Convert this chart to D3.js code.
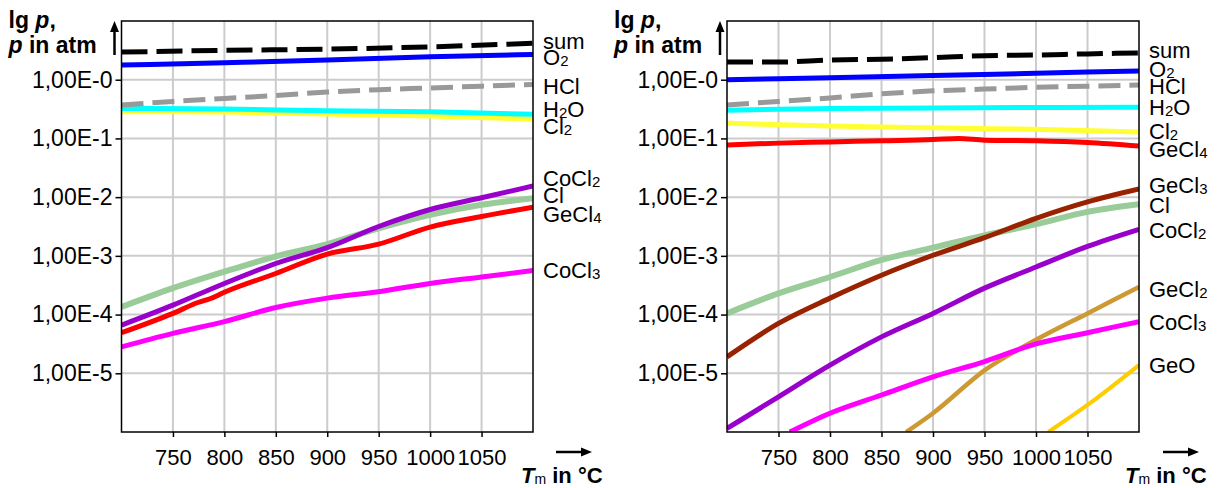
<!DOCTYPE html>
<html>
<head>
<meta charset="utf-8">
<script src="https://cdn.jsdelivr.net/npm/d3@7"></script>
<style>
  body { margin: 0; background: #fff; }
  svg { display: block; font-family: "Liberation Sans", Arial, sans-serif; }
</style>
</head>
<body>
<svg id="chart" width="1221" height="488"></svg>
<script>
// x ticks / y ticks (lg p)
var tempTicks = [750, 800, 850, 900, 950, 1000, 1050];
var lgTicks = [0, -1, -2, -3, -4, -5];
var lgTickLabels = ["1,00E-0", "1,00E-1", "1,00E-2", "1,00E-3", "1,00E-4", "1,00E-5"];

// left panel, [T in °C, lg p]
var leftSum   = [[700,0.47],[800,0.50],[900,0.52],[1000,0.56],[1100,0.62]];
var leftO2    = [[700,0.25],[800,0.29],[900,0.335],[1000,0.39],[1100,0.43]];
var leftHCl   = [[700,-0.43],[750,-0.37],[800,-0.32],[850,-0.27],[900,-0.21],[950,-0.17],[1000,-0.14],[1050,-0.11],[1100,-0.08]];
var leftH2O   = [[700,-0.49],[800,-0.50],[900,-0.53],[1000,-0.545],[1100,-0.59]];
var leftCl2   = [[700,-0.545],[800,-0.55],[850,-0.57],[900,-0.585],[1000,-0.62],[1100,-0.67]];
var leftCoCl2 = [[700,-4.18],[750,-3.84],[800,-3.47],[850,-3.13],[900,-2.86],[950,-2.50],[1000,-2.21],[1050,-2.01],[1100,-1.81]];
var leftCl    = [[700,-3.87],[750,-3.55],[800,-3.27],[850,-3.01],[900,-2.80],[950,-2.53],[1000,-2.30],[1050,-2.13],[1100,-2.02]];
var leftGeCl4 = [[700,-4.31],[750,-3.98],[775,-3.79],[786,-3.73],[800,-3.62],[850,-3.30],[900,-2.97],[950,-2.80],[1000,-2.51],[1050,-2.33],[1100,-2.17]];
var leftCoCl3 = [[700,-4.55],[750,-4.32],[800,-4.12],[850,-3.88],[900,-3.72],[950,-3.61],[1000,-3.47],[1050,-3.36],[1100,-3.25]];

// right panel
var rightSum   = [[700,0.30],[750,0.30],[800,0.335],[850,0.35],[900,0.375],[950,0.41],[1000,0.42],[1050,0.44],[1100,0.455]];
var rightO2    = [[700,0.0],[800,0.035],[900,0.07],[1000,0.11],[1100,0.15]];
var rightHCl   = [[700,-0.43],[750,-0.37],[800,-0.31],[850,-0.24],[900,-0.19],[950,-0.16],[1000,-0.13],[1050,-0.11],[1100,-0.09]];
var rightH2O   = [[700,-0.52],[800,-0.49],[900,-0.48],[1100,-0.47]];
var rightCl2   = [[700,-0.74],[800,-0.79],[900,-0.82],[1000,-0.845],[1100,-0.89]];
var rightGeCl4 = [[700,-1.11],[750,-1.08],[800,-1.06],[850,-1.04],[900,-1.02],[925,-1.0],[950,-1.03],[1000,-1.04],[1050,-1.07],[1100,-1.13]];
var rightGeCl3 = [[700,-4.72],[750,-4.15],[800,-3.72],[850,-3.33],[900,-2.99],[950,-2.69],[1000,-2.36],[1050,-2.08],[1100,-1.86]];
var rightCl    = [[700,-3.98],[750,-3.64],[800,-3.36],[850,-3.07],[900,-2.86],[950,-2.65],[1000,-2.46],[1050,-2.25],[1100,-2.12]];
var rightCoCl2 = [[700,-5.94],[750,-5.40],[800,-4.86],[850,-4.38],[900,-3.98],[950,-3.55],[1000,-3.19],[1050,-2.84],[1100,-2.55]];
var rightGeCl2 = [[874,-6.0],[900,-5.68],[950,-4.95],[1000,-4.43],[1050,-3.98],[1100,-3.53]];
var rightCoCl3 = [[761,-6.0],[800,-5.68],[850,-5.37],[900,-5.06],[950,-4.80],[1000,-4.50],[1050,-4.31],[1100,-4.12]];
var rightGeO   = [[1012,-6.0],[1050,-5.54],[1100,-4.86]];

// styles
var styles = {
  sum:   { color: "#000000", width: 5, dash: "26,9" },
  O2:    { color: "#0000ff", width: 5 },
  HCl:   { color: "#999999", width: 5, dash: "22,9" },
  H2O:   { color: "#00ffff", width: 5 },
  Cl2:   { color: "#ffff33", width: 5 },
  GeCl4: { color: "#ff0000", width: 5 },
  GeCl3: { color: "#992200", width: 5 },
  Cl:    { color: "#99cc99", width: 6 },
  CoCl2: { color: "#9900cc", width: 5 },
  CoCl3: { color: "#ff00ff", width: 5 },
  GeCl2: { color: "#cc9933", width: 4.5 },
  GeO:   { color: "#ffcc00", width: 4 }
};

var panels = [
  {
    left: 121.5, right: 533,
    series: [
      ["Cl2", leftCl2], ["H2O", leftH2O], ["HCl", leftHCl], ["O2", leftO2], ["sum", leftSum],
      ["CoCl3", leftCoCl3], ["GeCl4", leftGeCl4], ["Cl", leftCl], ["CoCl2", leftCoCl2]
    ],
    labels: [["sum","sum",49],["O_2","O2",65],["HCl","HCl",94],["H_2O","H2O",117],["Cl_2","Cl2",134],
             ["CoCl_2","CoCl2",186],["Cl","Cl",203],["GeCl_4","GeCl4",222],["CoCl_3","CoCl3",278]],
    arrowX: 556, titleX: 521
  },
  {
    left: 727, right: 1139,
    series: [
      ["GeCl4", rightGeCl4], ["Cl2", rightCl2], ["H2O", rightH2O], ["HCl", rightHCl], ["O2", rightO2], ["sum", rightSum],
      ["GeO", rightGeO], ["GeCl2", rightGeCl2], ["CoCl3", rightCoCl3], ["CoCl2", rightCoCl2], ["Cl", rightCl], ["GeCl3", rightGeCl3]
    ],
    labels: [["sum","sum",58],["O_2","O2",77],["HCl","HCl",94],["H_2O","H2O",115],["Cl_2","Cl2",139],
             ["GeCl_4","GeCl4",157],["GeCl_3","GeCl3",193],["Cl","Cl",213],["CoCl_2","CoCl2",238],
             ["GeCl_2","GeCl2",297],["CoCl_3","CoCl3",330],["GeO","GeO",373]],
    arrowX: 1163, titleX: 1125
  }
];

var plotTop = 21, plotBottom = 432;
var svg = d3.select("#chart");

function addLabel(sel, text, x, y, size) {
  var t = sel.append("text").attr("x", x).attr("y", y).attr("font-size", size).attr("fill", "#000");
  text.split(/_(\d)/).forEach(function(part, i) {
    if (part === "") return;
    var ts = t.append("tspan").text(part);
    if (i % 2 == 1) ts.attr("font-size", 15).attr("dy", 1);
    else if (i > 0) ts.attr("dy", -1);
  });
}

panels.forEach(function(p, pi) {
  var x = d3.scaleLinear().domain([700, 1100]).range([p.left, p.right]);
  var y = d3.scaleLinear().domain([-6, 1]).range([plotBottom, plotTop]);
  var g = svg.append("g");

  // grid
  g.selectAll(".vgrid").data(tempTicks).enter().append("line")
    .attr("x1", function(d) { return x(d); }).attr("x2", function(d) { return x(d); })
    .attr("y1", plotTop).attr("y2", plotBottom)
    .attr("stroke", "#cccccc").attr("stroke-width", 2);
  g.selectAll(".hgrid").data(lgTicks).enter().append("line")
    .attr("x1", p.left).attr("x2", p.right)
    .attr("y1", function(d) { return y(d); }).attr("y2", function(d) { return y(d); })
    .attr("stroke", "#cccccc").attr("stroke-width", 2);

  // lines
  var clipId = "clip" + pi;
  svg.append("clipPath").attr("id", clipId).append("rect")
    .attr("x", p.left).attr("y", plotTop).attr("width", p.right - p.left).attr("height", plotBottom - plotTop);
  var line = d3.line().curve(d3.curveMonotoneX)
    .x(function(d) { return x(d[0]); }).y(function(d) { return y(d[1]); });
  var lg = g.append("g").attr("clip-path", "url(#" + clipId + ")");
  p.series.forEach(function(s) {
    var st = styles[s[0]];
    lg.append("path").datum(s[1])
      .attr("d", line)
      .attr("fill", "none")
      .attr("stroke", st.color)
      .attr("stroke-width", st.width)
      .attr("stroke-dasharray", st.dash || null)
      .attr("stroke-linejoin", "round");
  });

  // frame
  g.append("rect").attr("x", p.left).attr("y", plotTop)
    .attr("width", p.right - p.left).attr("height", plotBottom - plotTop)
    .attr("fill", "none").attr("stroke", "#000").attr("stroke-width", 1.5);

  // axes
  var xAxis = g.append("g").attr("transform", "translate(0," + plotBottom + ")")
    .call(d3.axisBottom(x).tickValues(tempTicks).tickSize(5).tickPadding(12).tickFormat(d3.format("d")));
  xAxis.select(".domain").remove();
  xAxis.selectAll("text").attr("font-size", 22).attr("font-family", "Liberation Sans, Arial, sans-serif").attr("fill", "#000");
  xAxis.selectAll("line").attr("stroke", "#000").attr("stroke-width", 1.5);

  var yAxis = g.append("g").attr("transform", "translate(" + p.left + ",0)")
    .call(d3.axisLeft(y).tickValues(lgTicks).tickSize(6).tickPadding(3)
      .tickFormat(function(d, i) { return lgTickLabels[i]; }));
  yAxis.select(".domain").remove();
  yAxis.selectAll("text").attr("font-size", 23).attr("font-family", "Liberation Sans, Arial, sans-serif").attr("fill", "#000");
  yAxis.selectAll("line").attr("stroke", "#000").attr("stroke-width", 1.5);

  // series labels
  p.labels.forEach(function(l) {
    addLabel(g, l[0], p.right + 10, l[2], 22);
  });

  // y title
  var tx = p.left - 113;
  var t1 = g.append("text").attr("x", tx).attr("y", 28).attr("font-size", 23).attr("font-weight", "bold");
  t1.append("tspan").text("lg ");
  t1.append("tspan").attr("font-style", "italic").text("p");
  t1.append("tspan").text(",");
  var t2 = g.append("text").attr("x", tx).attr("y", 53).attr("font-size", 23).attr("font-weight", "bold");
  t2.append("tspan").attr("font-style", "italic").text("p");
  t2.append("tspan").text(" in atm");

  // y arrow
  var ax = p.left - 7;
  g.append("line").attr("x1", ax).attr("x2", ax).attr("y1", 55).attr("y2", 30)
    .attr("stroke", "#000").attr("stroke-width", 2.5);
  g.append("path").attr("d", "M" + (ax - 4.5) + ",32 L" + ax + ",21 L" + (ax + 4.5) + ",32 Z").attr("fill", "#000");

  // x arrow
  g.append("line").attr("x1", p.arrowX).attr("x2", p.arrowX + 27).attr("y1", 452).attr("y2", 452)
    .attr("stroke", "#000").attr("stroke-width", 2.5);
  g.append("path").attr("d", "M" + (p.arrowX + 25) + ",447.5 L" + (p.arrowX + 36) + ",452 L" + (p.arrowX + 25) + ",456.5 Z").attr("fill", "#000");

  // x title
  var t3 = g.append("text").attr("x", p.titleX).attr("y", 483).attr("font-size", 22).attr("font-weight", "bold");
  t3.append("tspan").attr("font-style", "italic").text("T");
  t3.append("tspan").attr("font-size", 14).attr("font-weight", "normal").attr("dy", 1).text("m");
  t3.append("tspan").attr("dy", -1).text(" in °C");
});
</script>
</body>
</html>
